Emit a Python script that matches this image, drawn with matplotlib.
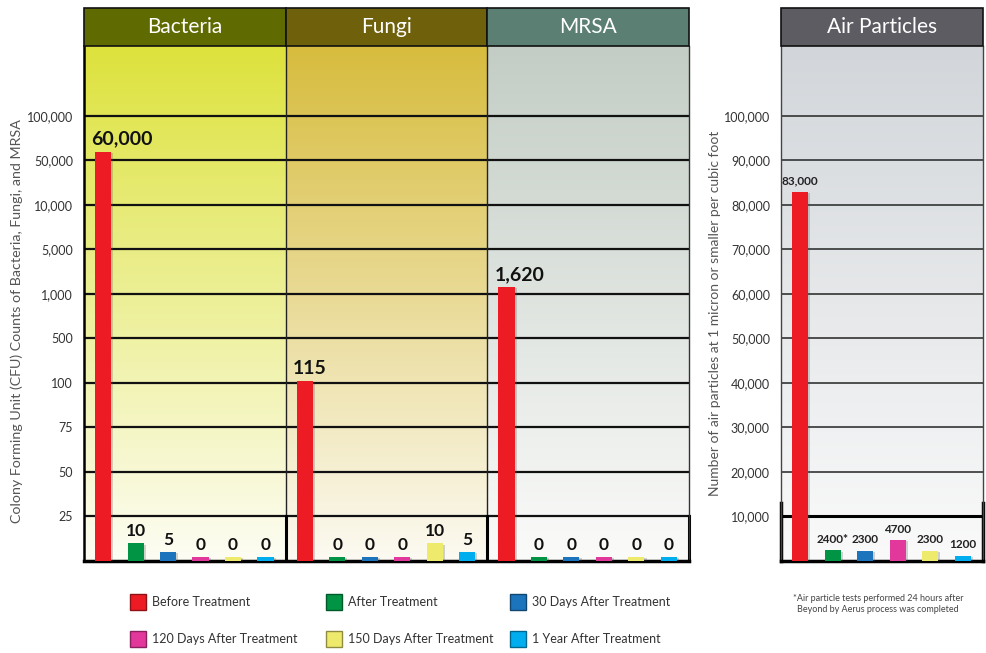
import numpy as np
import matplotlib
matplotlib.use("Agg")
import matplotlib.pyplot as plt
from matplotlib.patches import Rectangle
from matplotlib.colors import to_rgb
import matplotlib.patheffects as pe

plt.rcParams['font.family'] = ['Lato', 'DejaVu Sans']

# ---------------- data ----------------
categories = ['Bacteria', 'Fungi', 'MRSA']
series = ['Before Treatment', 'After Treatment', '30 Days After Treatment',
          '120 Days After Treatment', '150 Days After Treatment', '1 Year After Treatment']
bacteria = [60000, 10, 5, 0, 0, 0]
fungi = [115, 0, 0, 0, 10, 5]
mrsa = [1620, 0, 0, 0, 0, 0]
air = [83000, 2400, 2300, 4700, 2300, 1200]
air_labels = ['83,000', '2400*', '2300', '4700', '2300', '1200']
cfu_ticks = [0, 25, 50, 75, 100, 500, 1000, 5000, 10000, 50000, 100000]
cfu_tick_labels = ['', '25', '50', '75', '100', '500', '1,000', '5,000', '10,000', '50,000', '100,000']
air_ticks = [10000, 20000, 30000, 40000, 50000, 60000, 70000, 80000, 90000, 100000]
air_tick_labels = ['10,000', '20,000', '30,000', '40,000', '50,000', '60,000', '70,000',
                   '80,000', '90,000', '100,000']

# ---------------- style ----------------
colors = ['#ed1c24', '#009444', '#1c75bc', '#e2379b', '#eeea6c', '#00aeef']
header_colors = ['#5f6a00', '#6f600c', '#5b7f73']
air_header_color = '#5c5c62'
grad_top = ['#dde23c', '#d7bc3d', '#c3cdc5']
grad_bot = ['#fdfdf4', '#fcfaf2', '#fbfbfa']
air_grad = ('#d2d6da', '#fafafa')
OFFSETS = 0.095 + 0.161 * np.arange(6)
BAR_W = 0.08
STUB = 2.2          # minimum visible stub for zero-valued bars
TOP_INDEX = 11.573
AIR_TOP = 115700
HDR = 38 / 515

W, H = 986, 653
fig = plt.figure(figsize=(W / 100, H / 100), dpi=100)
fig.patch.set_facecolor('white')


def px_rect(x0, x1, y0, y1):
    return [x0 / W, 1 - y1 / H, (x1 - x0) / W, (y1 - y0) / H]


L_rect = px_rect(84, 689, 46, 561)
R_rect = px_rect(781, 983, 46, 561)

T = np.array(cfu_ticks, float)
I = np.arange(len(T), dtype=float)
SLOPE = T[-1] - T[-2]


def fwd(v):
    v = np.asarray(v, float)
    i = np.interp(v, T, I)
    return np.where(v > T[-1], I[-1] + (v - T[-1]) / SLOPE, i)


def inv(i):
    i = np.asarray(i, float)
    v = np.interp(i, I, T)
    return np.where(i > I[-1], T[-1] + (i - I[-1]) * SLOPE, v)


def gradient(ax, x0, x1, top, bot):
    t = np.linspace(0, 1, 256)[:, None, None]
    a, b = np.array(to_rgb(bot)), np.array(to_rgb(top))
    img = a + (b - a) * t
    ax.imshow(img, extent=[x0, x1, 0, 1], origin='lower', aspect='auto',
              interpolation='bilinear')


def darker(c, f=0.6):
    return tuple(np.array(to_rgb(c)) * f)


shadow = [pe.SimplePatchShadow(offset=(1.5, -1), shadow_rgbFace='#555555', alpha=0.25), pe.Normal()]

# ---------------- left panel ----------------
bgL = fig.add_axes(L_rect, zorder=0)
bgL.axis('off')
for k in range(3):
    gradient(bgL, k, k + 1, grad_top[k], grad_bot[k])
bgL.set_xlim(0, 3)
bgL.set_ylim(0, 1)

ax = fig.add_axes(L_rect, zorder=1)
ax.patch.set_alpha(0)
ax.set_yscale('function', functions=(fwd, inv))
ax.set_xlim(0, 3)
ax.set_ylim(0, float(inv(TOP_INDEX)))
ax.set_axisbelow(True)
ax.set_yticks(cfu_ticks[1:])
ax.set_yticklabels(cfu_tick_labels[1:])
ax.yaxis.set_minor_locator(matplotlib.ticker.NullLocator())
ax.set_xticks([])
ax.tick_params(axis='y', length=0, pad=8, labelsize=9, labelcolor='#333333')
ax.yaxis.grid(True, color='#111111', lw=1.6)

groups = [bacteria, fungi, mrsa]
for k, vals in enumerate(groups):
    xs = k + OFFSETS
    heights = np.maximum(np.array(vals, float), STUB)
    bars = ax.bar(xs, heights, width=BAR_W, color=colors, zorder=3)
    for b in bars:
        b.set_path_effects(shadow)
    for j, (x, v, h) in enumerate(zip(xs, vals, heights)):
        if j == 0:
            ax.annotate(f'{v:,}', (x - 0.06, h), xytext=(0, 3), textcoords='offset points',
                        ha='left', va='bottom', fontsize=14, fontweight='bold', color='#111111',
                        zorder=5)
        else:
            ax.annotate(f'{v:,}', (x, h), xytext=(0, 3), textcoords='offset points',
                        ha='center', va='bottom', fontsize=12.5, fontweight='bold', color='#111111',
                        zorder=5)

for k in (1, 2):
    ax.axvline(k, color='#222222', lw=1.0, zorder=2)
    ax.plot([k, k], [0, cfu_ticks[1]], color='black', lw=2.2, zorder=2)
ax.plot([3, 3], [0, cfu_ticks[1]], color='black', lw=2.2, zorder=2, clip_on=False)

ax.spines['top'].set_visible(False)
ax.spines['left'].set_linewidth(1.8)
ax.spines['left'].set_color('black')
ax.spines['right'].set_linewidth(1.0)
ax.spines['right'].set_color('#333333')
ax.spines['bottom'].set_linewidth(2.5)
ax.spines['bottom'].set_color('black')

xt = ax.get_xaxis_transform()
for k, name in enumerate(categories):
    ax.add_patch(Rectangle((k, 1), 1, HDR, transform=xt, facecolor=header_colors[k],
                           edgecolor='#111111', lw=1.2, clip_on=False, zorder=4))
    ax.text(k + 0.5, 1 + HDR / 2, name, transform=xt, ha='center', va='center',
            color='white', fontsize=15, zorder=5)

fig.text(17 / W, 1 - 321 / H, 'Colony Forming Unit (CFU) Counts of Bacteria, Fungi, and MRSA',
         rotation=90, ha='center', va='center', fontsize=10.3, color='#555555')

# ---------------- right panel ----------------
bgR = fig.add_axes(R_rect, zorder=0)
bgR.axis('off')
gradient(bgR, 0, 1, air_grad[0], air_grad[1])
bgR.set_xlim(0, 1)
bgR.set_ylim(0, 1)

ax2 = fig.add_axes(R_rect, zorder=1)
ax2.patch.set_alpha(0)
ax2.set_xlim(0, 1)
ax2.set_ylim(0, AIR_TOP)
ax2.set_axisbelow(True)
ax2.set_yticks(air_ticks)
ax2.set_yticklabels(air_tick_labels)
ax2.set_xticks([])
ax2.tick_params(axis='y', length=0, pad=8, labelsize=9, labelcolor='#333333')
ax2.yaxis.grid(True, color='#333333', lw=1.2)
ax2.axhline(air_ticks[0], color='black', lw=2.2, zorder=2)

bars = ax2.bar(OFFSETS, air, width=BAR_W, color=colors, zorder=3)
for b in bars:
    b.set_path_effects(shadow)
for x, v, lab in zip(OFFSETS, air, air_labels):
    ax2.annotate(lab, (x, v), xytext=(0, 4), textcoords='offset points', ha='center',
                 va='bottom', fontsize=8.5, fontweight='bold', color='#222222', zorder=5)

ax2.spines['top'].set_visible(False)
for s in ('left', 'right'):
    ax2.spines[s].set_linewidth(1.0)
    ax2.spines[s].set_color('#444444')
ax2.spines['bottom'].set_linewidth(2.5)
ax2.spines['bottom'].set_color('black')
for xx in (0, 1):
    ax2.plot([xx, xx], [0, air_ticks[0] * 1.3], color='black', lw=2.5, zorder=2, clip_on=False)

xt2 = ax2.get_xaxis_transform()
ax2.add_patch(Rectangle((0, 1), 1, HDR, transform=xt2, facecolor=air_header_color,
                        edgecolor='#111111', lw=1.2, clip_on=False, zorder=4))
ax2.text(0.5, 1 + HDR / 2, 'Air Particles', transform=xt2, ha='center', va='center',
         color='white', fontsize=15, zorder=5)

fig.text(715 / W, 1 - 313 / H, 'Number of air particles at 1 micron or smaller per cubic foot',
         rotation=90, ha='center', va='center', fontsize=10, color='#555555')

fig.text(878 / W, 1 - 604 / H,
         '*Air particle tests performed 24 hours after\nBeyond by Aerus process was completed',
         ha='center', va='center', fontsize=6.5, color='#444444', linespacing=1.3)

# ---------------- legend ----------------
col_x = [130, 326, 510]
row_y = [602, 639]
for idx, (name, c) in enumerate(zip(series, colors)):
    r, cidx = divmod(idx, 3)
    x, yc = col_x[cidx], row_y[r]
    fig.add_artist(Rectangle((x / W, 1 - (yc + 8) / H), 16 / W, 16 / H, transform=fig.transFigure,
                             facecolor=c, edgecolor=darker(c), lw=1.0))
    fig.text((x + 22) / W, 1 - yc / H, name, ha='left', va='center', fontsize=9,
             color='#333333')

fig.savefig('out.png', dpi=100)
